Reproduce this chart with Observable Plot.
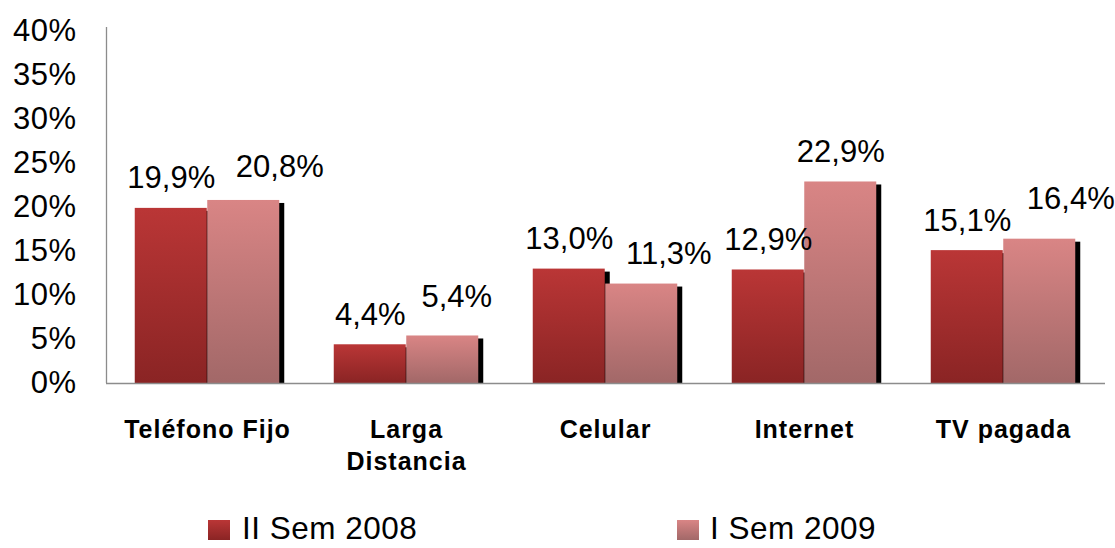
<!DOCTYPE html>
<html>
<head>
<meta charset="utf-8">
<script src="https://cdn.jsdelivr.net/npm/d3@7"></script>
<script src="https://cdn.jsdelivr.net/npm/@observablehq/plot@0.6"></script>
<style>
  html, body { margin: 0; padding: 0; background: #fff; }
  #wrap { position: relative; width: 1115px; height: 548px; overflow: hidden; font-family: "Liberation Sans", Arial, sans-serif; }
  #chart { position: absolute; left: 0; top: 0; }
  g[aria-label="values"] text, g[aria-label="y-axis tick label"] text { letter-spacing: 0.5px; }
  g[aria-label="x-axis tick label"] text { letter-spacing: 1px; }
  .sw { position: absolute; top: 520px; width: 22px; height: 20px; }
  .lt { position: absolute; bottom: 1px; font-size: 31.5px; line-height: normal; letter-spacing: 0.5px; color: #000; white-space: nowrap; }
</style>
</head>
<body>
<div id="wrap">
  <div id="chart"></div>
</div>
<script>
// ---- data ----
const categories = ["Teléfono Fijo", "Larga\nDistancia", "Celular", "Internet", "TV pagada"];
const seriesNames = ["II Sem 2008", "I Sem 2009"];
const sem2008 = [19.9, 4.4, 13.0, 12.9, 15.1];
const sem2009 = [20.8, 5.4, 11.3, 22.9, 16.4];
const yTicks = [0, 5, 10, 15, 20, 25, 30, 35, 40];

// ---- layout (not data) ----
const W = 1115, H = 480;
const mLeft = 106, mRight = 10, mTop = 31, mBottom = 97;
const barW = 72.5;
const step = (W - mLeft - mRight) / categories.length;
const pInner = 1 - barW / step;
const pOuter = pInner / 2;
const shadowDx = 5, shadowInset = 3;
// manual nudges of the second series' value labels, as placed in the original
const nudge2009X = [36, 14, 27, 0, 31];
const nudge2009Y = [3, 9, 0, 0, 10];
// legend placement: swatch left, text left
const legendSwatchLeft = [208, 677];
const legendTextLeft = [242, 710];

const grads = [
  {id: "g2008", top: "#BA3636", bottom: "#8A2424"},
  {id: "g2009", top: "#D98585", bottom: "#A26868"}
];

const fmt = v => d3.format(".1f")(v).replace(".", ",") + "%";

const d2008 = categories.map((c, i) => ({cat: c, v: sem2008[i], i}));
const d2009 = categories.map((c, i) => ({cat: c, v: sem2009[i], i}));

const defs = () => {
  const d = d3.create("svg:defs");
  for (const g of grads) {
    const lg = d.append("linearGradient").attr("id", g.id).attr("x1", 0).attr("y1", 0).attr("x2", 0).attr("y2", 1);
    lg.append("stop").attr("offset", "0%").attr("stop-color", g.top);
    lg.append("stop").attr("offset", "100%").attr("stop-color", g.bottom);
  }
  return d.node();
};

const leftLine = (index, scales, values, dims) => {
  const l = d3.create("svg:line")
    .attr("x1", dims.marginLeft + 0.5).attr("x2", dims.marginLeft + 0.5)
    .attr("y1", scales.y(40) - 4).attr("y2", scales.y(0))
    .attr("stroke", "#8c8c8c").attr("stroke-width", 1.3);
  return l.node();
};

const half = barW / 2;
const valueFont = 31;

const labelMarks = [];
d2009.forEach((d, k) => {
  labelMarks.push(Plot.text([d], {
    x: "cat", y: "v", text: r => fmt(r.v),
    dx: half + nudge2009X[k], dy: -20 - nudge2009Y[k],
    lineAnchor: "bottom", fontSize: valueFont, fill: "#000", ariaLabel: "values"
  }));
});

const plot = Plot.plot({
  width: W, height: H,
  marginLeft: mLeft, marginRight: mRight, marginTop: mTop, marginBottom: mBottom,
  style: {fontFamily: '"Liberation Sans", Arial, sans-serif', background: "#fff", color: "#000"},
  x: {domain: categories, paddingInner: pInner, paddingOuter: pOuter},
  y: {domain: [0, 40]},
  marks: [
    defs,
    Plot.axisY({ticks: yTicks, tickSize: 0, tickPadding: 30, tickFormat: d => d + "%", fontSize: valueFont, label: null}),
    Plot.axisX({tickSize: 0, tickPadding: 31, fontSize: 25, fontWeight: "bold", lineHeight: 1.3, label: null}),
    // shadows
    Plot.barY(d2008, {x: "cat", y: "v", fill: "#000", dx: -half + shadowDx, insetTop: shadowInset}),
    Plot.barY(d2009, {x: "cat", y: "v", fill: "#000", dx: half + shadowDx, insetTop: shadowInset}),
    // bars
    Plot.barY(d2008, {x: "cat", y: "v", fill: "url(#g2008)", dx: -half}),
    Plot.barY(d2009, {x: "cat", y: "v", fill: "url(#g2009)", dx: half}),
    Plot.ruleY([0], {stroke: "#8c8c8c", strokeWidth: 1.3}),
    leftLine,
    Plot.text(d2008, {x: "cat", y: "v", text: r => fmt(r.v), dx: -half, dy: -20, lineAnchor: "bottom", fontSize: valueFont, fill: "#000", ariaLabel: "values"}),
    ...labelMarks
  ]
});
document.getElementById("chart").appendChild(plot);

// legend
const wrap = document.getElementById("wrap");
seriesNames.forEach((name, i) => {
  const sw = document.createElement("div");
  sw.className = "sw";
  sw.style.left = legendSwatchLeft[i] + "px";
  sw.style.background = `linear-gradient(${grads[i].top}, ${grads[i].bottom})`;
  const t = document.createElement("div");
  t.className = "lt";
  t.style.left = legendTextLeft[i] + "px";
  t.textContent = name;
  wrap.appendChild(sw);
  wrap.appendChild(t);
});
</script>
</body>
</html>
